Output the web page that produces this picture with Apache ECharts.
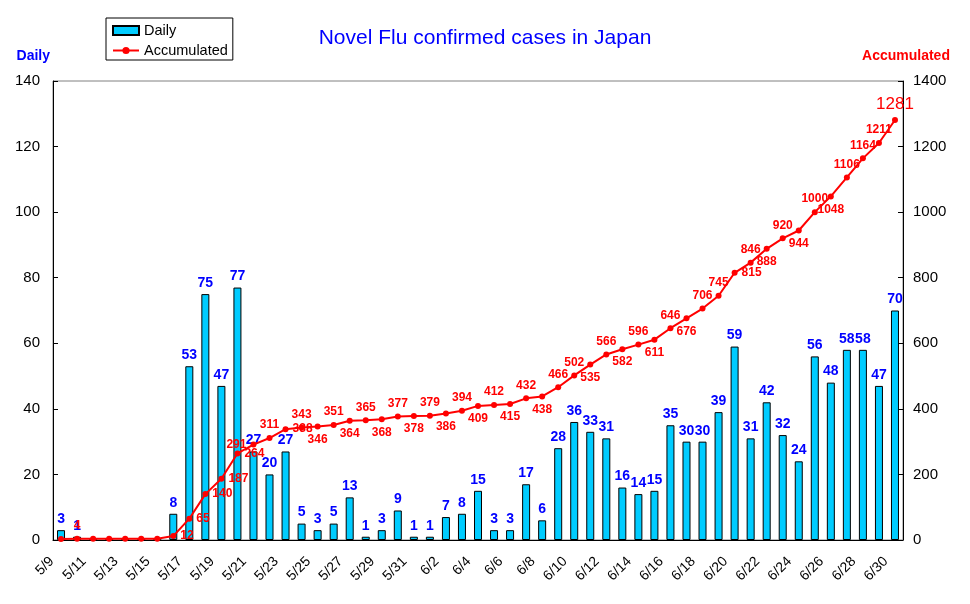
<!DOCTYPE html>
<html>
<head>
<meta charset="utf-8">
<script src="https://cdn.jsdelivr.net/npm/echarts@6/dist/echarts.min.js"></script>
<style>
html, body { margin: 0; padding: 0; background: #fff; }
#main { width: 970px; height: 604px; }
</style>
</head>
<body>
<div id="main"></div>
<script>
// 日付 (5/9 - 6/30)
var days = [
    '5/9', '5/10', '5/11', '5/12', '5/13', '5/14', '5/15', '5/16', '5/17', '5/18',
    '5/19', '5/20', '5/21', '5/22', '5/23', '5/24', '5/25', '5/26', '5/27', '5/28',
    '5/29', '5/30', '5/31', '6/1', '6/2', '6/3', '6/4', '6/5', '6/6', '6/7',
    '6/8', '6/9', '6/10', '6/11', '6/12', '6/13', '6/14', '6/15', '6/16', '6/17',
    '6/18', '6/19', '6/20', '6/21', '6/22', '6/23', '6/24', '6/25', '6/26', '6/27',
    '6/28', '6/29', '6/30'
];

// 毎日の確認数
var daily = [
    3, 1, 0, 0, 0, 0, 0, 8, 53, 75,
    47, 77, 27, 20, 27, 5, 3, 5, 13, 1,
    3, 9, 1, 1, 7, 8, 15, 3, 3, 17,
    6, 28, 36, 33, 31, 16, 14, 15, 35, 30,
    30, 39, 59, 31, 42, 32, 24, 56, 48, 58,
    58, 47, 70
];

// 累計
var accumulated = [
    3, 4, 4, 4, 4, 4, 4, 12, 65, 140,
    187, 264, 291, 311, 338, 343, 346, 351, 364, 365,
    368, 377, 378, 379, 386, 394, 409, 412, 415, 432,
    438, 466, 502, 535, 566, 582, 596, 611, 646, 676,
    706, 745, 815, 846, 888, 920, 944, 1000, 1048, 1106,
    1164, 1211, 1281
];

var dailyTicks = { min: 0, max: 140, interval: 20 };
var accTicks = { min: 0, max: 1400, interval: 200 };

var font = 'Liberation Sans, Arial, sans-serif';

// 累計ラベルの位置 (上下交互)
function accPos(i) {
    if ((i >= 7 && i <= 11) || i === 14 || i === 42) return 'right';
    if (i === 12) return 'left';
    if (i >= 49) return 'top';
    if (i >= 32 && i <= 40) return i % 2 ? 'bottom' : 'top';
    return i % 2 ? 'top' : 'bottom';
}

var accData = accumulated.map(function (v, i) {
    var show = i >= 7 || i === 1;
    var last = i === accumulated.length - 1;
    return {
        value: v,
        label: {
            show: show,
            position: accPos(i),
            distance: 4,
            offset: last ? [-10, 5] : [0, 0],
            fontSize: last ? 17 : 12,
            fontWeight: last ? 'normal' : 'bold'
        }
    };
});

var myChart = echarts.init(document.getElementById('main'));

var option = {
    backgroundColor: '#fff',
    animation: false,
    title: {
        text: 'Novel Flu confirmed cases in Japan',
        left: 'center',
        top: 23,
        textStyle: {
            color: '#0000ff',
            fontSize: 21,
            fontWeight: 'normal',
            fontFamily: font
        }
    },
    legend: {
        left: 106,
        top: 18,
        orient: 'vertical',
        backgroundColor: '#fff',
        borderColor: '#000',
        borderWidth: 1,
        borderRadius: 0,
        padding: [5, 5, 2, 6],
        itemGap: 5,
        itemWidth: 26,
        itemHeight: 9,
        textStyle: { fontSize: 14.5, color: '#000', fontFamily: font },
        data: [
            { name: 'Daily', icon: 'rect' },
            { name: 'Accumulated' }
        ]
    },
    grid: {
        left: 53,
        right: 67,
        top: 81,
        bottom: 64,
        show: true,
        borderColor: '#808080',
        borderWidth: 1
    },
    xAxis: {
        type: 'category',
        data: days,
        boundaryGap: true,
        axisLine: { lineStyle: { color: '#000', width: 1 } },
        axisTick: { inside: true, interval: 0, length: 5, lineStyle: { color: '#000' } },
        axisLabel: {
            interval: 1,
            rotate: 45,
            fontSize: 14,
            color: '#000',
            margin: 10,
            padding: [0, 13, 0, 0],
            fontFamily: font
        },
        splitLine: { show: false }
    },
    yAxis: [
        {
            type: 'value',
            name: 'Daily',
            nameLocation: 'end',
            nameGap: 18,
            nameTextStyle: { color: '#0000ff', fontWeight: 'bold', fontSize: 14, align: 'right', padding: [0, 3, 0, 0], fontFamily: font },
            min: dailyTicks.min,
            max: dailyTicks.max,
            interval: dailyTicks.interval,
            axisLine: { show: true, lineStyle: { color: '#000' } },
            axisTick: { show: true, inside: true, length: 5, lineStyle: { color: '#000' } },
            axisLabel: { fontSize: 15, color: '#000', margin: 13, fontFamily: font },
            splitLine: { show: false }
        },
        {
            type: 'value',
            name: 'Accumulated',
            nameLocation: 'end',
            nameGap: 18,
            nameTextStyle: { color: '#ff0000', fontWeight: 'bold', fontSize: 14, align: 'center', padding: [0, 0, 0, 6], fontFamily: font },
            min: accTicks.min,
            max: accTicks.max,
            interval: accTicks.interval,
            axisLine: { show: true, lineStyle: { color: '#000' } },
            axisTick: { show: true, inside: true, length: 5, lineStyle: { color: '#000' } },
            axisLabel: {
                fontSize: 15,
                color: '#000',
                margin: 10,
                fontFamily: font,
                formatter: function (v) { return String(v); }
            },
            splitLine: { show: false }
        }
    ],
    series: [
        {
            name: 'Daily',
            type: 'bar',
            yAxisIndex: 0,
            barWidth: 8,
            data: daily,
            itemStyle: {
                color: '#00ccff',
                borderColor: '#000',
                borderWidth: 1
            },
            label: {
                show: true,
                position: 'top',
                distance: 4,
                color: '#0000ff',
                fontSize: 14,
                fontWeight: 'bold',
                fontFamily: font,
                formatter: function (p) { return p.value === 0 ? '' : p.value; }
            }
        },
        {
            name: 'Accumulated',
            type: 'line',
            yAxisIndex: 1,
            data: accData,
            symbol: 'circle',
            symbolSize: 6,
            z: 5,
            lineStyle: { color: '#ff0000', width: 2 },
            itemStyle: { color: '#ff0000' },
            label: {
                color: '#ff0000',
                fontFamily: font
            },
            labelLayout: { hideOverlap: false }
        }
    ]
};

myChart.setOption(option);
</script>
</body>
</html>
